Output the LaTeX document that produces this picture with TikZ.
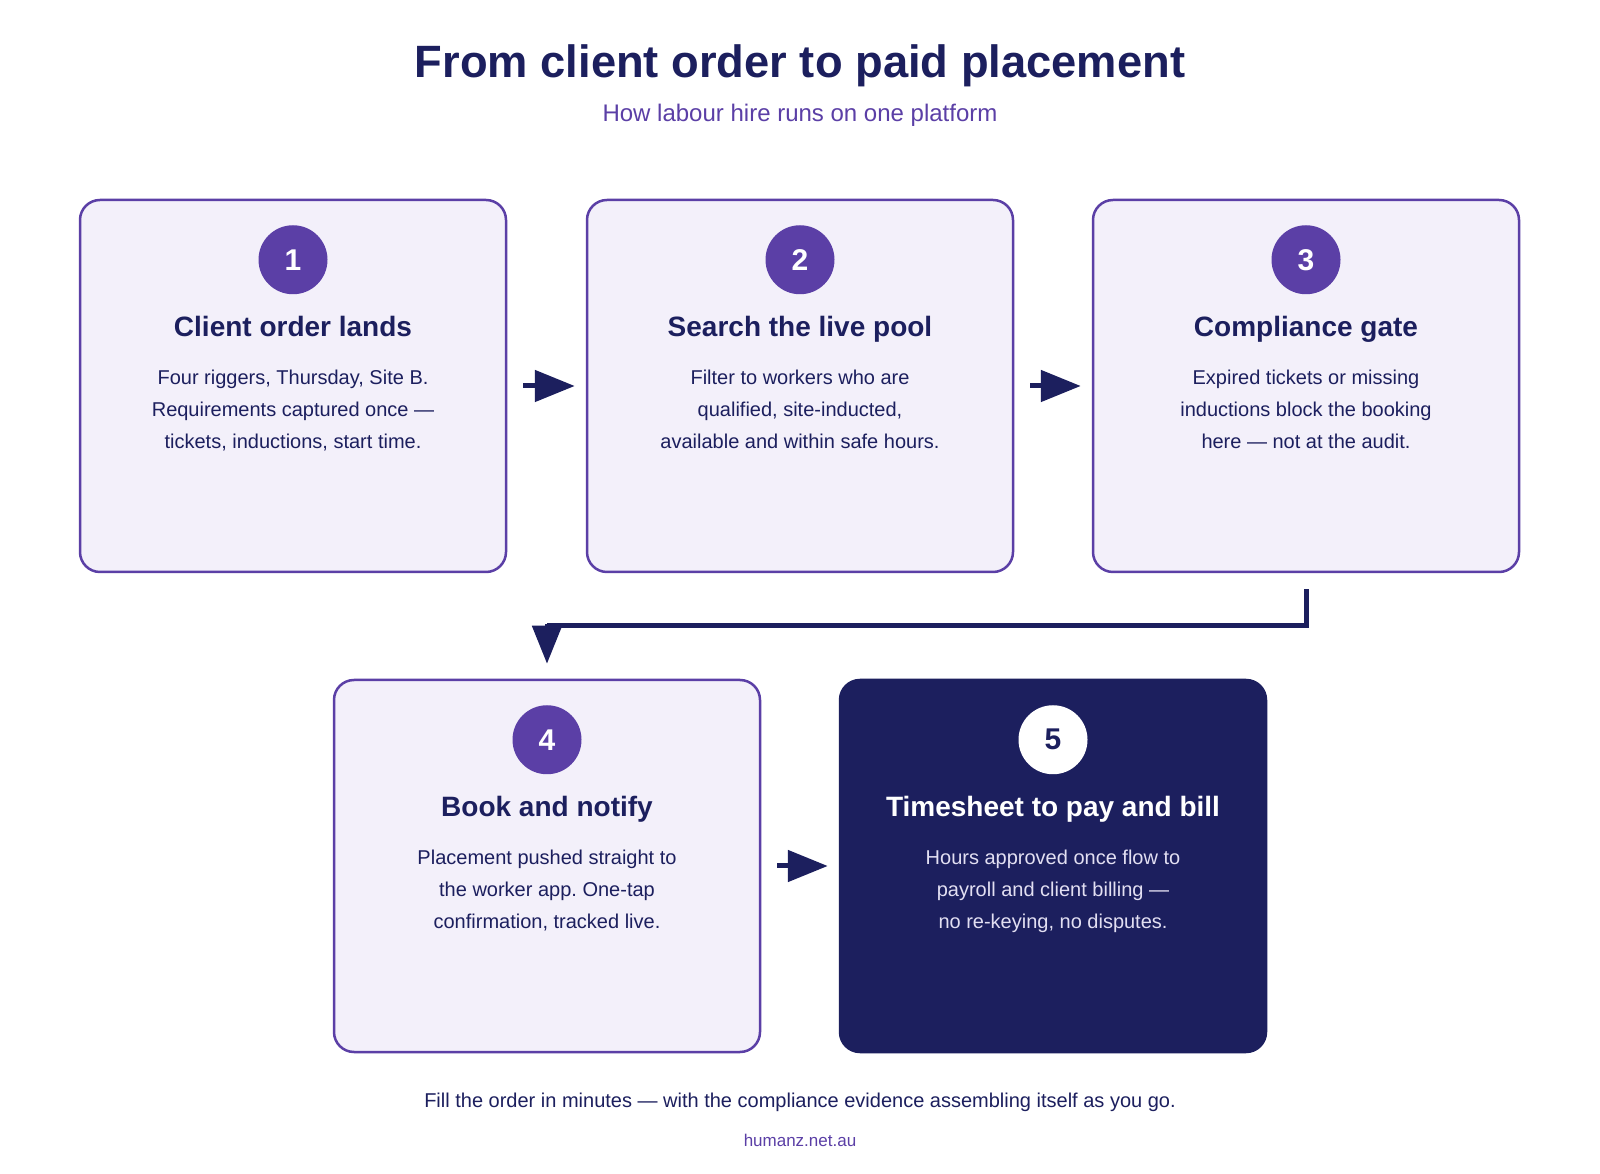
\documentclass[tikz,border=0pt]{standalone}
\usepackage{fontspec}
\setmainfont{Liberation Sans}
\frenchspacing
\usetikzlibrary{arrows.meta,calc}
\definecolor{navy}{HTML}{1C1F5E}
\definecolor{purp}{HTML}{5B3FA6}
\definecolor{lav}{HTML}{F3F0FA}
\definecolor{pale}{HTML}{E2DFF2}
\tikzset{
 card/.style={draw=purp, line width=2.5pt, fill=lav, rounded corners=20pt, minimum width=426pt, minimum height=372pt, inner sep=0pt},
 darkcard/.style={card, draw=navy, fill=navy},
 badge/.style={circle, fill=purp, minimum size=69pt, inner sep=0pt, text=white, font=\bfseries\fontsize{30}{30}\selectfont},
 darkbadge/.style={badge, fill=white, text=navy},
 cardtitle/.style={anchor=base, text=navy, font=\bfseries\fontsize{28}{33}\selectfont, inner sep=0pt},
 cardbody/.style={align=center, text=navy, font=\frenchspacing\fontsize{20}{32}\selectfont, inner sep=0pt},
 conn/.style={draw=navy, line width=5pt, -{Triangle[length=40pt,width=31pt]}},
 vconn/.style={draw=navy, line width=5pt, -{Triangle[length=38pt,width=29pt]}},
 plainline/.style={draw=navy, line width=5pt},
}
\begin{document}
\begin{tikzpicture}[x=1pt,y=1pt]
\useasboundingbox[fill=white] (0,0) rectangle (1600,1173);

\node[anchor=base, text=navy, font=\bfseries\fontsize{45.3}{54}\selectfont] (title) at (800,1095) {From client order to paid placement};
\node[anchor=base, text=purp, font=\fontsize{24}{28}\selectfont] (subtitle) at (800,1051) {How labour hire runs on one platform};

% cards
\node[card] (b1) at (293,787) {};
\node[card] (b2) at (800,787) {};
\node[card] (b3) at (1306,787) {};
\node[card] (b4) at (547,307) {};
\node[darkcard] (b5) at (1053,307) {};

\node[badge] (c1) at ($(b1.north)+(0,-61pt)$) {1};
\node[cardtitle] (t1) at ($(b1.north)+(0,-138pt)$) {Client order lands};
\node[cardbody] (d1) at ($(b1.north)+(0,-211pt)$) {\strut Four riggers, Thursday, Site B.\\Requirements captured once —\\tickets, inductions, start time.\strut};

\node[badge] (c2) at ($(b2.north)+(0,-61pt)$) {2};
\node[cardtitle] (t2) at ($(b2.north)+(0,-138pt)$) {Search the live pool};
\node[cardbody] (d2) at ($(b2.north)+(0,-211pt)$) {\strut Filter to workers who are\\qualified, site-inducted,\\available and within safe hours.\strut};

\node[badge] (c3) at ($(b3.north)+(0,-61pt)$) {3};
\node[cardtitle] (t3) at ($(b3.north)+(0,-138pt)$) {Compliance gate};
\node[cardbody] (d3) at ($(b3.north)+(0,-211pt)$) {\strut Expired tickets or missing\\inductions block the booking\\here — not at the audit.\strut};

\node[badge] (c4) at ($(b4.north)+(0,-61pt)$) {4};
\node[cardtitle] (t4) at ($(b4.north)+(0,-138pt)$) {Book and notify};
\node[cardbody] (d4) at ($(b4.north)+(0,-211pt)$) {\strut Placement pushed straight to\\the worker app. One-tap\\confirmation, tracked live.\strut};

\node[darkbadge] (c5) at ($(b5.north)+(0,-61pt)$) {5};
\node[cardtitle, text=white] (t5) at ($(b5.north)+(0,-138pt)$) {Timesheet to pay and bill};
\node[cardbody, text=pale] (d5) at ($(b5.north)+(0,-211pt)$) {\strut Hours approved once flow to\\payroll and client billing —\\no re-keying, no disputes.\strut};

% connectors
\draw[conn] ([xshift=16pt]b1.east) -- ([xshift=-11pt]b2.west);
\draw[conn] ([xshift=16pt]b2.east) -- ([xshift=-11pt]b3.west);
\draw[conn] ([xshift=16pt]b4.east) -- ([xshift=-11pt]b5.west);
\coordinate (elb) at ($(b4.north)+(0,53pt)$);
\draw[plainline] ([yshift=-16pt]b3.south) |- (elb);
\draw[vconn] ($(elb)+(0,2pt)$) -- ([yshift=15pt]b4.north);

% footer
\node[anchor=base, text=navy, font=\fontsize{20}{24}\selectfont] (foot) at (800,66) {Fill the order in minutes — with the compliance evidence assembling itself as you go.};
\node[anchor=base, text=purp, font=\fontsize{17}{20}\selectfont] (site) at (800,27) {humanz.net.au};
\end{tikzpicture}
\end{document}
